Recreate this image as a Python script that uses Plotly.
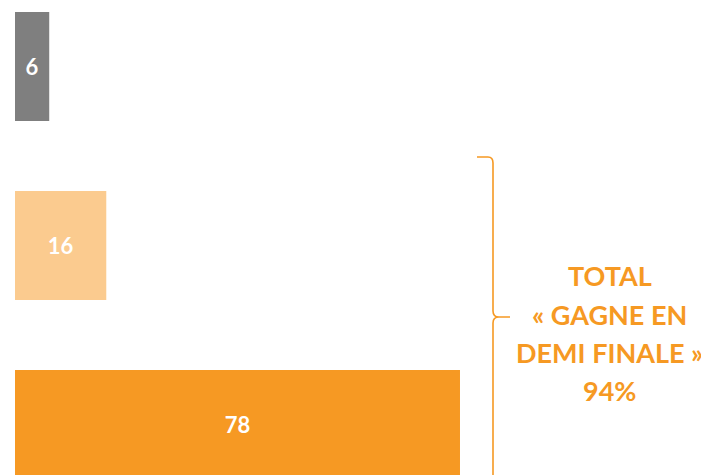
import plotly.graph_objects as go

categories = ["Gris", "Clair", "Orange"]
values = [6, 16, 78]
colors = ["#7F7F7F", "#FBCB8F", "#F69923"]
total_lines = ["TOTAL", "« GAGNE EN", "DEMI FINALE »", "94%"]

# the page body adds an 8px offset; figure fills the rest of the 709x475 window
OFF = 8
W, H = 709 - OFF, 475 - OFF
L = 15 - OFF
px_per_unit = 5.705
xmax = (W - L) / px_per_unit

pos = list(range(len(categories)))
c0 = 66.5 - OFF
step = 179
ytop = -c0 / step
ybot = (H - c0) / step

fig = go.Figure()
fig.add_trace(go.Bar(
    y=pos, x=values, orientation="h",
    marker=dict(color=colors, line=dict(width=0)),
    width=109 / step,
    text=[str(v) for v in values],
    textposition="inside", insidetextanchor="middle",
    textfont=dict(family="Lato", size=22, color="white"),
    texttemplate="<b>%{text}</b>",
    hoverinfo="skip",
))

def px(x):
    return (x - OFF - L) / (W - L)

def py(y):
    return 1 - (y - OFF) / H

def P(x, y):
    return f"{px(x):.5f},{py(y):.5f}"

path = (
    f"M {P(477,157)} L {P(488,157)} Q {P(493,157)} {P(493,163)} "
    f"L {P(493,311)} Q {P(493,317)} {P(499,317)} L {P(510,317)} "
    f"M {P(499,317)} Q {P(493,317)} {P(493,323)} L {P(493,490)}"
)
fig.add_shape(type="path", path=path, xref="paper", yref="paper",
              line=dict(color="#F69923", width=1.6))

line_y = [275, 314, 352, 390]
for txt, yy in zip(total_lines, line_y):
    fig.add_annotation(
        x=px(609.5), y=py(yy), xref="paper", yref="paper",
        text=f"<b>{txt}</b>", showarrow=False, align="center",
        xanchor="center", yanchor="middle",
        font=dict(family="Lato", size=27, color="#F69923"),
    )

fig.update_layout(
    width=W, height=H,
    margin=dict(l=L, r=0, t=0, b=0),
    paper_bgcolor="white", plot_bgcolor="white",
    showlegend=False,
    xaxis=dict(range=[0, xmax], visible=False, fixedrange=True),
    yaxis=dict(range=[ybot, ytop], visible=False, fixedrange=True),
)

fig.write_html("out.html")
